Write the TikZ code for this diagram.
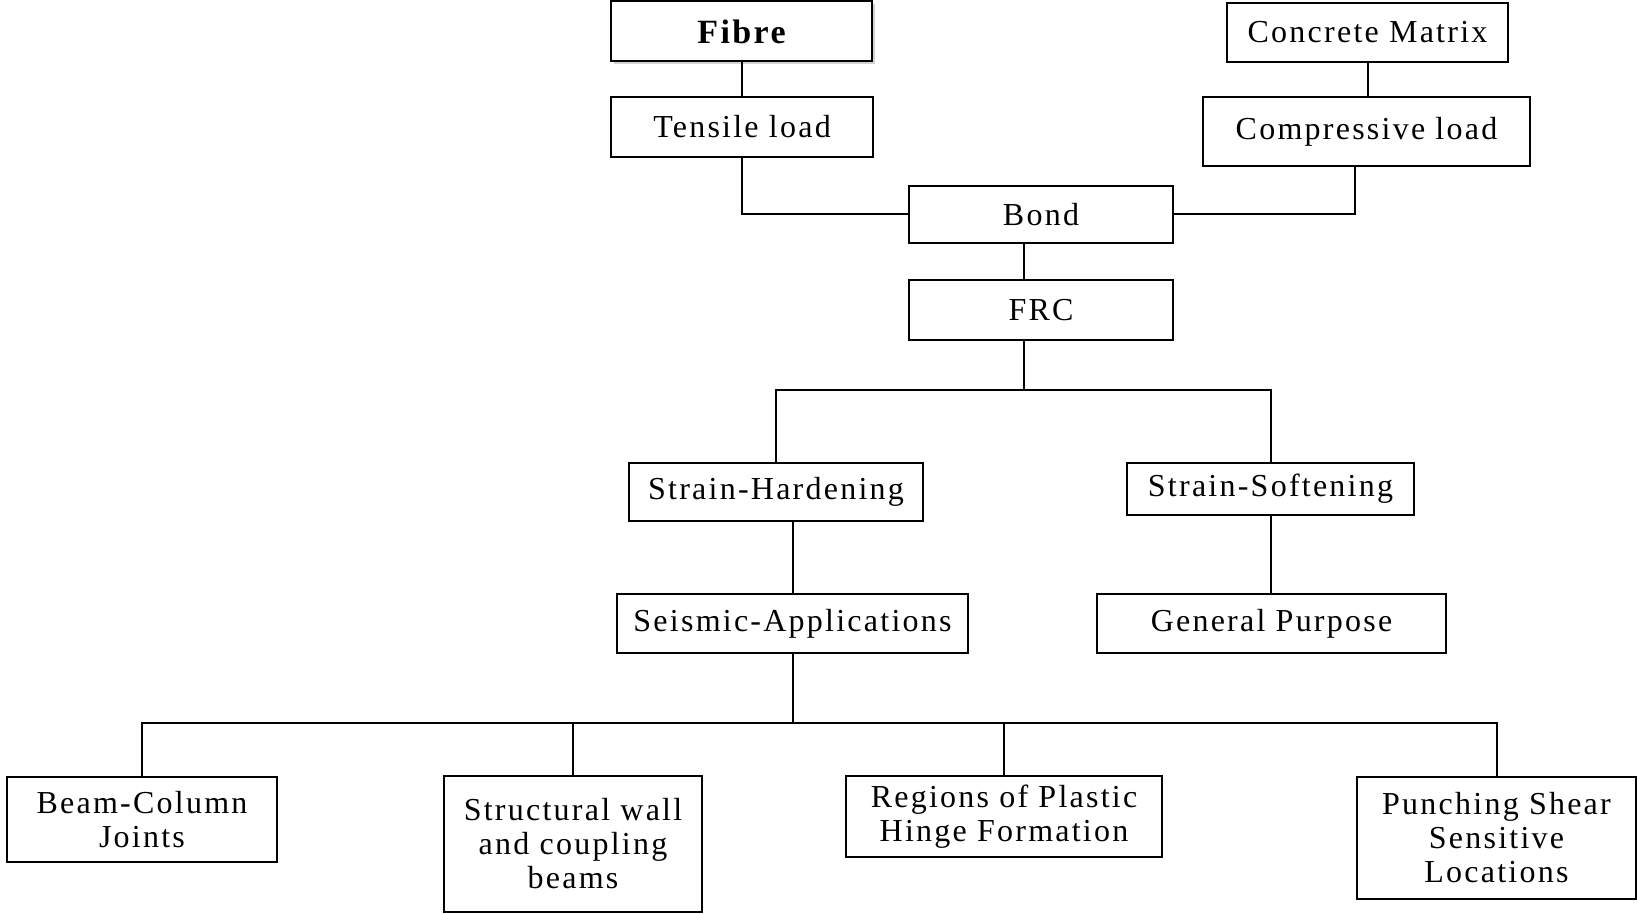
\documentclass[tikz,border=0pt]{standalone}
\usepackage{fontspec}
\setmainfont{Liberation Serif}[LetterSpace=7]
\usetikzlibrary{calc, shadows}

\begin{document}
\begin{tikzpicture}[x=0.5pt, y=-0.5pt, line width=1pt,
    box/.style={draw, fill=white, align=center, inner sep=0pt,
                font=\fontsize{16}{17}\selectfont}]
    \useasboundingbox (0,0) rectangle (1638,914);

    % Top: fibre and matrix
    \node[box, minimum width=130.5pt, minimum height=30pt,
          font=\fontsize{17}{18}\selectfont\bfseries,
          drop shadow={shadow xshift=1.5pt, shadow yshift=-1.5pt, fill=gray!70}]
          (fibre) at (741.5,31.5) {Fibre};
    \node[box, minimum width=131pt, minimum height=30pt] (tensile) at (742,127) {Tensile load};
    \node[box, minimum width=140.5pt, minimum height=29.5pt] (matrix) at (1367.5,32.5) {Concrete Matrix};
    \node[box, minimum width=163.5pt, minimum height=34.5pt] (compress) at (1366.5,131.5) {Compressive load};

    % Middle: bond and FRC
    \node[box, minimum width=132pt, minimum height=28.5pt] (bond) at (1041,214.5) {Bond};
    \node[box, minimum width=132pt, minimum height=30pt] (frc) at (1041,310) {FRC};
    \coordinate (frcbus) at (1024,390);

    % Behaviour
    \node[box, minimum width=147pt, minimum height=29pt] (hard) at (776,492) {Strain-Hardening};
    \node[box, minimum width=143.5pt, minimum height=26pt] (soft) at (1270.5,489) {Strain-Softening};
    \node[box, minimum width=175.5pt, minimum height=29.5pt] (seismic) at (792.5,623.5) {Seismic-Applications};
    \node[box, minimum width=174.5pt, minimum height=29.5pt] (general) at (1271.5,623.5) {General Purpose};
    \coordinate (appbus) at (792.5,723);

    % Applications
    \node[box, minimum width=135pt, minimum height=42.5pt] (beam) at (142,819.5) {Beam-Column\\Joints};
    \node[box, minimum width=129pt, minimum height=68pt] (wall) at (573,844) {Structural wall\\and coupling\\beams};
    \node[box, minimum width=158pt, minimum height=40.5pt] (plastic) at (1004,816.5) {Regions of Plastic\\Hinge Formation};
    \node[box, minimum width=139.5pt, minimum height=61pt] (punch) at (1496.5,838) {Punching Shear\\Sensitive\\Locations};

    % Connectors
    \draw (fibre.south) -- (fibre.south |- tensile.north);
    \draw (matrix.south) -- (matrix.south |- compress.north);
    \draw (tensile.south) |- (bond.west);
    \draw ([xshift=-6pt]compress.south) |- (bond.east);
    \draw (frcbus |- bond.south) -- (frcbus |- frc.north);
    \draw (frcbus |- frc.south) -- (frcbus);
    \draw (hard.north) |- (frcbus) -| (soft.north);
    \draw (hard.south -| seismic.north) -- (seismic.north);
    \draw (soft.south) -- (soft.south |- general.north);
    \draw (seismic.south) -- (appbus);
    \draw (beam.north) |- (appbus) -| (punch.north);
    \draw (wall.north) -- (wall.north |- appbus);
    \draw (plastic.north) -- (plastic.north |- appbus);
\end{tikzpicture}
\end{document}
